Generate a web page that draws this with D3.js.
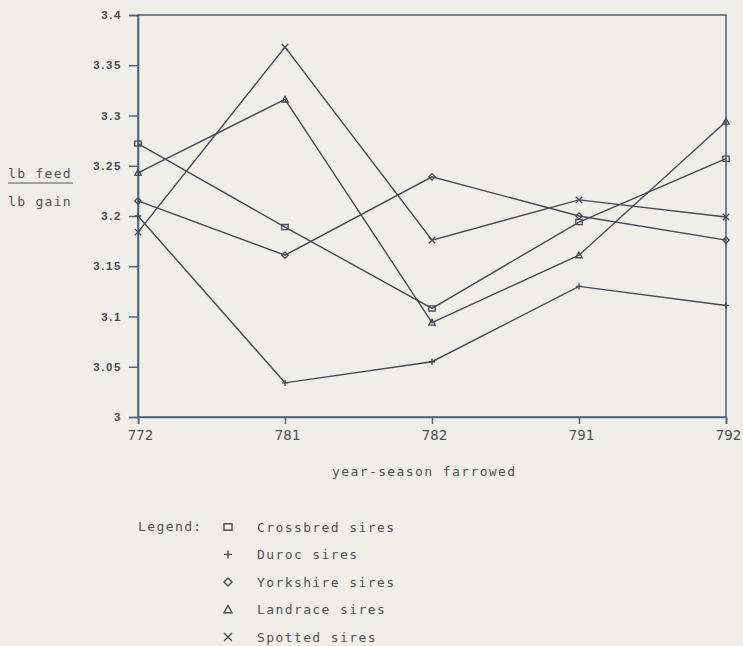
<!DOCTYPE html>
<html>
<head>
<meta charset="utf-8">
<script src="https://cdn.jsdelivr.net/npm/d3@7"></script>
<style>
  body { margin: 0; background: #efeee9; }
  svg { display: block; }
  .mono { font-family: "DejaVu Sans Mono", "Liberation Mono", monospace; fill: #4f5255; }
</style>
</head>
<body>
<svg></svg>
<script>
// year-season farrowed
let categories = ["772", "781", "782", "791", "792"];
// lb feed / lb gain per sire breed
let crossbred = [3.272, 3.189, 3.108, 3.194, 3.257];
let duroc = [3.200, 3.034, 3.055, 3.130, 3.111];
let yorkshire = [3.215, 3.161, 3.239, 3.200, 3.176];
let landrace = [3.243, 3.316, 3.094, 3.161, 3.294];
let spotted = [3.184, 3.368, 3.176, 3.216, 3.199];
let yTicks = [3, 3.05, 3.1, 3.15, 3.2, 3.25, 3.3, 3.35, 3.4];
let legendNames = ["Crossbred sires", "Duroc sires", "Yorkshire sires", "Landrace sires", "Spotted sires"];
let markerTypes = ["square", "plus", "diamond", "triangle", "cross"];

let width = 743, height = 646;
let svg = d3.select("svg").attr("width", width).attr("height", height);

// plot area bounds
let plotLeft = 138, plotRight = 726, plotTop = 15, plotBottom = 417;
let axisColor = "#53667a";
let lineColor = "#434a53";

let x = d3.scalePoint().domain(categories).range([plotLeft, plotRight]).padding(0);
let y = d3.scaleLinear().domain([3, 3.4]).range([plotBottom, plotTop]);

// frame
svg.append("rect")
  .attr("x", plotLeft).attr("y", plotTop)
  .attr("width", plotRight - plotLeft).attr("height", plotBottom - plotTop)
  .attr("fill", "none").attr("stroke", axisColor).attr("stroke-width", 1.6);

// y axis
let yAxis = svg.append("g").attr("transform", "translate(" + plotLeft + ",0)")
  .call(d3.axisLeft(y).tickValues(yTicks).tickSize(9).tickPadding(7).tickFormat(d => String(d)));
yAxis.select(".domain").attr("stroke", axisColor).attr("stroke-width", 1.6);
yAxis.selectAll(".tick line").attr("stroke", axisColor).attr("stroke-width", 1.5);
yAxis.selectAll(".tick text")
  .attr("font-family", "Liberation Sans, Arial, sans-serif")
  .attr("font-weight", "bold")
  .attr("font-size", 11.5)
  .attr("letter-spacing", 1.6)
  .attr("fill", "#474a4f");

// x axis
let xAxis = svg.append("g").attr("transform", "translate(0," + plotBottom + ")")
  .call(d3.axisBottom(x).tickSize(7).tickPadding(6));
xAxis.select(".domain").attr("stroke", axisColor).attr("stroke-width", 1.6);
xAxis.selectAll(".tick line").attr("stroke", axisColor).attr("stroke-width", 1.5);
xAxis.selectAll(".tick text")
  .attr("class", "mono")
  .attr("font-size", 14)
  .attr("dx", 2)
  .attr("fill", "#55585c");

// axis titles
svg.append("text").attr("class", "mono")
  .attr("x", 332).attr("y", 476)
  .attr("font-size", 13).attr("letter-spacing", 1.4)
  .text("year-season farrowed");

svg.append("text").attr("class", "mono")
  .attr("x", 8).attr("y", 178)
  .attr("font-size", 13).attr("letter-spacing", 1.3)
  .text("lb feed");
svg.append("line")
  .attr("x1", 8).attr("x2", 73).attr("y1", 183).attr("y2", 183)
  .attr("stroke", "#55585c").attr("stroke-width", 1.2);
svg.append("text").attr("class", "mono")
  .attr("x", 8).attr("y", 206)
  .attr("font-size", 13).attr("letter-spacing", 1.3)
  .text("lb gain");

// marker paths, centred on 0,0
function markerPath(type, s) {
  if (type === "square") return "M" + (-s) + "," + (-s * 0.8) + "h" + (2 * s) + "v" + (1.6 * s) + "h" + (-2 * s) + "Z";
  if (type === "plus") return "M" + (-s) + ",0h" + (2 * s) + "M0," + (-s) + "v" + (2 * s);
  if (type === "diamond") return "M0," + (-s) + "L" + s + ",0L0," + s + "L" + (-s) + ",0Z";
  if (type === "triangle") return "M0," + (-s) + "L" + s + "," + (s * 0.8) + "L" + (-s) + "," + (s * 0.8) + "Z";
  return "M" + (-s) + "," + (-s) + "L" + s + "," + s + "M" + s + "," + (-s) + "L" + (-s) + "," + s;
}

let allSeries = [crossbred, duroc, yorkshire, landrace, spotted];
let line = d3.line()
  .x((d, i) => x(categories[i]))
  .y(d => y(d));

allSeries.forEach(function (values, k) {
  svg.append("path")
    .attr("d", line(values))
    .attr("fill", "none")
    .attr("stroke", lineColor)
    .attr("stroke-width", 1.4);
  svg.selectAll(null).data(values).enter().append("path")
    .attr("transform", (d, i) => "translate(" + x(categories[i]) + "," + y(d) + ")")
    .attr("d", markerPath(markerTypes[k], 3.2))
    .attr("fill", "none")
    .attr("stroke", lineColor)
    .attr("stroke-width", 1.3);
});

// legend
svg.append("text").attr("class", "mono")
  .attr("x", 138).attr("y", 531)
  .attr("font-size", 13).attr("letter-spacing", 1.4)
  .text("Legend:");

let rowY = d3.scalePoint().domain(legendNames).range([527, 637]);
let rows = svg.selectAll("g.legend").data(legendNames).enter().append("g")
  .attr("class", "legend")
  .attr("transform", d => "translate(0," + rowY(d) + ")");
rows.append("path")
  .attr("transform", "translate(228,0)")
  .attr("d", (d, i) => markerPath(markerTypes[i], 4))
  .attr("fill", "none")
  .attr("stroke", "#4f5255")
  .attr("stroke-width", 1.5);
rows.append("text").attr("class", "mono")
  .attr("x", 257).attr("y", 4.5)
  .attr("font-size", 13).attr("letter-spacing", 1.4)
  .text(d => d);
</script>
</body>
</html>
